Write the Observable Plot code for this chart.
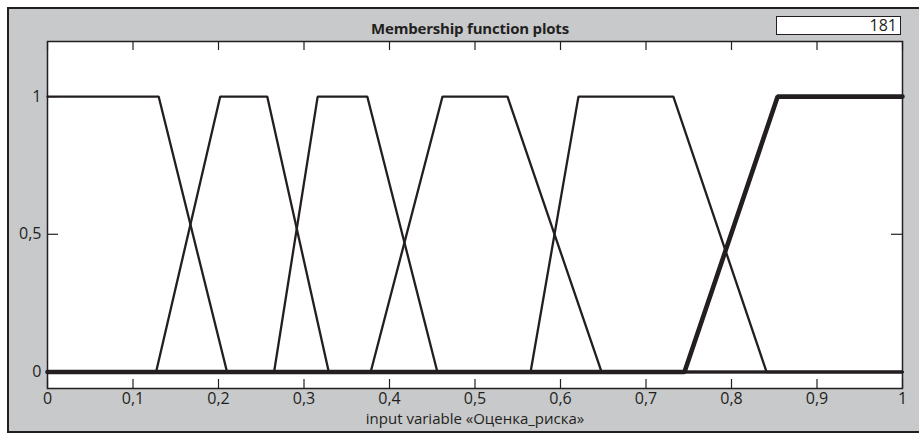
<!DOCTYPE html>
<html>
<head>
<meta charset="utf-8">
<script src="https://cdn.jsdelivr.net/npm/d3@7"></script>
<script src="https://cdn.jsdelivr.net/npm/@observablehq/plot@0.6"></script>
<style>
  html, body { margin: 0; padding: 0; background: #fff; }
  #wrap { position: relative; width: 919px; height: 434px; overflow: hidden; }
  #panel {
    position: absolute; left: 7px; top: 7px; width: 912px; height: 422px;
    background: #c8c9cb;
    border-left: 2.5px solid #231f20; border-top: 2.5px solid #231f20; border-bottom: 2.5px solid #231f20;
  }
  #chart { position: absolute; left: 0; top: 0; }
  #title {
    position: absolute; left: 0; width: 940px; top: 18px; text-align: center;
    font: bold 15px "Open Sans", sans-serif; color: #231f20; letter-spacing: -0.2px;
  }
  #idx {
    position: absolute; left: 776px; top: 16px; width: 120px; height: 17px;
    background: #fff; border: 1px solid #231f20; text-align: right; padding-right: 3px;
    font: 16px "Open Sans", sans-serif; line-height: 17px; color: #231f20;
  }
</style>
</head>
<body>
<div id="wrap">
  <div id="panel"></div>
  <div id="chart"></div>
  <div id="title"></div>
  <div id="idx"></div>
</div>
<script>
// Axis ticks and their printed labels (decimal comma)
const xTicks = [0, 0.1, 0.2, 0.3, 0.4, 0.5, 0.6, 0.7, 0.8, 0.9, 1];
const xTickLabels = ["0", "0,1", "0,2", "0,3", "0,4", "0,5", "0,6", "0,7", "0,8", "0,9", "1"];
const yTicks = [0, 0.5, 1];
const yTickLabels = ["0", "0,5", "1"];

const titleText = "Membership function plots";
const pointCount = "181";
const xLabel = "input variable «Оценка_риска»";

// Vertices of each membership function over the input range [0, 1]
const mf1X = [0, 0.13, 0.21, 1];
const mf1Y = [1, 1, 0, 0];
const mf2X = [0, 0.127, 0.202, 0.257, 0.329, 1];
const mf2Y = [0, 0, 1, 1, 0, 0];
const mf3X = [0, 0.265, 0.316, 0.374, 0.456, 1];
const mf3Y = [0, 0, 1, 1, 0, 0];
const mf4X = [0, 0.378, 0.462, 0.538, 0.648, 1];
const mf4Y = [0, 0, 1, 1, 0, 0];
const mf5X = [0, 0.565, 0.621, 0.732, 0.841, 1];
const mf5Y = [0, 0, 1, 1, 0, 0];
// the selected (highlighted) function
const mf6X = [0, 0.745, 0.854, 1];
const mf6Y = [0, 0, 1, 1];

const toPoints = (xs, ys, id) => xs.map((x, i) => ({x, y: ys[i], id}));
const thinCurves = [
  ...toPoints(mf1X, mf1Y, "mf1"),
  ...toPoints(mf2X, mf2Y, "mf2"),
  ...toPoints(mf3X, mf3Y, "mf3"),
  ...toPoints(mf4X, mf4Y, "mf4"),
  ...toPoints(mf5X, mf5Y, "mf5")
];
const selectedCurve = toPoints(mf6X, mf6Y, "mf6");

const ink = "#231f20";
const W = 919, H = 434;
const mL = 47, mR = 17, mT = 41, mB = 46;
const innerW = W - mL - mR, innerH = H - mT - mB;
const tickLen = 9;

const chart = Plot.plot({
  width: W,
  height: H,
  marginLeft: mL,
  marginRight: mR,
  marginTop: mT,
  marginBottom: mB,
  style: {background: "transparent", color: ink, fontFamily: "'Open Sans', sans-serif", fontSize: "16px"},
  x: {domain: [0, 1]},
  y: {domain: [-0.06, 1.2]},
  marks: [
    Plot.frame({fill: "white", stroke: "none"}),
    // inward ticks on all four sides
    Plot.tickX(xTicks, {x: d => d, insetTop: innerH - tickLen, stroke: ink, strokeWidth: 1.2}),
    Plot.tickX(xTicks, {x: d => d, insetBottom: innerH - tickLen, stroke: ink, strokeWidth: 1.2}),
    Plot.tickY(yTicks, {y: d => d, insetRight: innerW - 11, stroke: ink, strokeWidth: 1.2}),
    Plot.tickY(yTicks, {y: d => d, insetLeft: innerW - 11, stroke: ink, strokeWidth: 1.2}),
    Plot.line(thinCurves, {x: "x", y: "y", z: "id", stroke: ink, strokeWidth: 2.3, strokeLinejoin: "miter"}),
    Plot.line(selectedCurve, {x: "x", y: "y", stroke: ink, strokeWidth: 4.6, strokeLinejoin: "miter"}),
    Plot.frame({stroke: ink, strokeWidth: 1.5}),
    Plot.axisX({ticks: xTicks, tickFormat: d => xTickLabels[xTicks.indexOf(d)], tickSize: 0, tickPadding: 4, fontSize: 16, label: null}),
    Plot.axisY({ticks: yTicks, tickFormat: d => yTickLabels[yTicks.indexOf(d)], tickSize: 0, tickPadding: 6, fontSize: 16, label: null}),
    Plot.text([xLabel], {text: d => d, frameAnchor: "bottom", lineAnchor: "middle", dy: 31, fontSize: 15, fill: ink})
  ]
});

document.getElementById("chart").appendChild(chart);
document.getElementById("title").textContent = titleText;
document.getElementById("idx").textContent = pointCount;
</script>
</body>
</html>
